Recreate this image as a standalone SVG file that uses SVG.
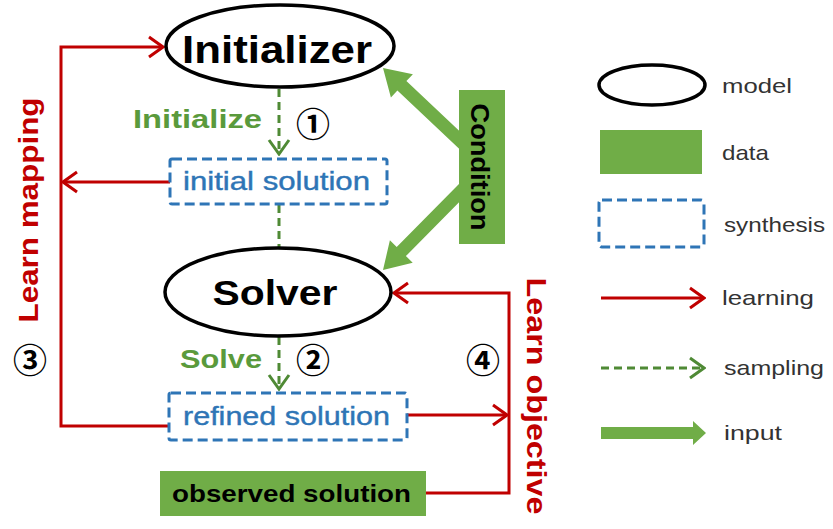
<svg xmlns="http://www.w3.org/2000/svg" width="833" height="529" viewBox="0 0 833 529">
<defs>
<style>
.model{fill:#fff;stroke:#000;stroke-width:3.5}
.synth{fill:#fff;stroke:#2e75b6;stroke-width:3;stroke-dasharray:10 5}
.data{fill:#70ad47}
.learn{fill:none;stroke:#c00000;stroke-width:3}
.samp{fill:none;stroke:#4f8a35;stroke-width:3;stroke-dasharray:8 5}
.big{font-family:"Liberation Sans",Arial,sans-serif;font-weight:bold;fill:#000}
.lbl{font-family:"Liberation Sans",Arial,sans-serif;font-weight:bold}
.blue{font-family:"Liberation Sans",Arial,sans-serif;fill:#2e75b6;font-size:26px;stroke:#2e75b6;stroke-width:0.4}
.leg{font-family:"Liberation Sans",Arial,sans-serif;fill:#333;font-size:21px}
.num{font-family:"Noto Sans CJK JP","DejaVu Sans",sans-serif;font-size:34px;font-weight:bold;fill:#000;text-anchor:middle;dominant-baseline:central}
</style>
<marker id="ar" viewBox="0 0 18 24" refX="16" refY="12" markerWidth="18" markerHeight="24" markerUnits="userSpaceOnUse" orient="auto">
<path d="M2,2 L16,12 L2,22" fill="none" stroke="#c00000" stroke-width="3"/>
</marker>
<marker id="ag" viewBox="0 0 18 24" refX="16" refY="12" markerWidth="18" markerHeight="24" markerUnits="userSpaceOnUse" orient="auto">
<path d="M2,2 L16,12 L2,22" fill="none" stroke="#4f8a35" stroke-width="3"/>
</marker>
</defs>
<rect width="833" height="529" fill="#fff"/>

<g id="connectors">
<path class="learn" d="M170,426 H61 V47 H163" marker-end="url(#ar)"/>
<path class="learn" d="M170,182 H63" marker-end="url(#ar)"/>
<path class="learn" d="M426,493 H509 V293 H394" marker-end="url(#ar)"/>
<path class="learn" d="M407,415 H507" marker-end="url(#ar)"/>
<path class="samp" d="M279,89 V154" marker-end="url(#ag)"/>
<path class="samp" d="M279,205 V248"/>
<path class="samp" d="M279,337 V389" marker-end="url(#ag)"/>
<polygon fill="#70ad47" points="474.5,145.3 406.4,81.1 412.9,74.2 383,68 390.9,97.4 397.4,90.5 465.5,154.7"/>
<polygon fill="#70ad47" points="474.6,186.6 405.9,256.1 412.7,262.7 383,270 389.9,240.3 396.7,246.9 465.4,177.4"/>
</g>

<g id="initializer">
<ellipse class="model" cx="280" cy="46" rx="114" ry="41"/>
<text class="big" x="277" y="63" font-size="39" text-anchor="middle" textLength="190" lengthAdjust="spacingAndGlyphs">Initializer</text>
</g>
<g id="initialize-label">
<text class="lbl" x="133" y="128" font-size="25" fill="#5a9a3c" textLength="129" lengthAdjust="spacingAndGlyphs">Initialize</text>
<text class="num" x="313" y="122">①</text>
</g>
<g id="initial-solution">
<rect class="synth" x="170" y="159" width="217" height="45" rx="2"/>
<text class="blue" x="183" y="190" textLength="187" lengthAdjust="spacingAndGlyphs">initial solution</text>
</g>
<g id="condition">
<rect class="data" x="459" y="90" width="46" height="154"/>
<text class="big" transform="translate(471,167) rotate(90)" font-size="26" text-anchor="middle" textLength="127" lengthAdjust="spacingAndGlyphs">Condition</text>
</g>
<g id="solver">
<ellipse class="model" cx="278" cy="292" rx="113" ry="44"/>
<text class="big" x="275" y="305" font-size="35" text-anchor="middle" textLength="125" lengthAdjust="spacingAndGlyphs">Solver</text>
</g>
<g id="solve-label">
<text class="lbl" x="180" y="368" font-size="25" fill="#5a9a3c" textLength="82" lengthAdjust="spacingAndGlyphs">Solve</text>
<text class="num" x="313" y="358">②</text>
</g>
<g id="refined-solution">
<rect class="synth" x="169" y="393" width="238" height="47" rx="2"/>
<text class="blue" x="183" y="425" textLength="207" lengthAdjust="spacingAndGlyphs">refined solution</text>
</g>
<g id="observed-solution">
<rect class="data" x="160" y="471" width="266" height="45"/>
<text class="big" x="172" y="502" font-size="24" textLength="239" lengthAdjust="spacingAndGlyphs">observed solution</text>
</g>
<g id="learn-mapping">
<text class="lbl" transform="translate(38,210) rotate(-90)" font-size="28" fill="#c00000" text-anchor="middle" textLength="225" lengthAdjust="spacingAndGlyphs">Learn mapping</text>
<text class="num" x="30" y="358">③</text>
</g>
<g id="learn-objective">
<text class="lbl" transform="translate(527,396) rotate(90)" font-size="28" fill="#c00000" text-anchor="middle" textLength="237" lengthAdjust="spacingAndGlyphs">Learn objective</text>
<text class="num" x="483" y="358">④</text>
</g>

<g id="legend">
<ellipse class="model" cx="652" cy="85" rx="53" ry="20" stroke-width="3"/>
<text class="leg" x="722" y="93" textLength="70" lengthAdjust="spacingAndGlyphs">model</text>
<rect class="data" x="600" y="130" width="102" height="44"/>
<text class="leg" x="722" y="160" textLength="47" lengthAdjust="spacingAndGlyphs">data</text>
<rect class="synth" x="599" y="200" width="105" height="47" rx="3"/>
<text class="leg" x="724" y="232" textLength="101" lengthAdjust="spacingAndGlyphs">synthesis</text>
<path class="learn" d="M601,298 H704" marker-end="url(#ar)"/>
<text class="leg" x="722" y="305" textLength="92" lengthAdjust="spacingAndGlyphs">learning</text>
<path class="samp" d="M601,368 H704" marker-end="url(#ag)"/>
<text class="leg" x="724" y="375" textLength="100" lengthAdjust="spacingAndGlyphs">sampling</text>
<polygon fill="#70ad47" points="601,427 693,427 693,421 706,433 693,445 693,439 601,439"/>
<text class="leg" x="724" y="440" textLength="58" lengthAdjust="spacingAndGlyphs">input</text>
</g>
</svg>
